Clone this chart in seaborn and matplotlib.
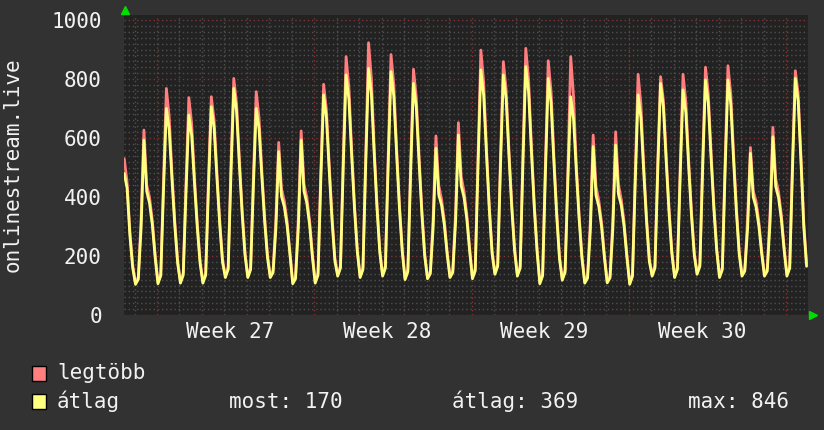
import matplotlib
matplotlib.use("Agg")
import numpy as np
import pandas as pd
import matplotlib.pyplot as plt
from matplotlib.patches import Rectangle
import seaborn as sns

# days counted from Monday of week 27 (= 0); values read at these hours of each day
hours = [1, 4, 7, 10, 13, 16, 19, 22]

# the half Saturday at the left edge (day -2)
sat_hours = [13, 16, 19, 22]
sat_avg = [480, 430, 270, 160]
sat_max = [530, 450, 285, 170]

# átlag (yellow), one row per day starting with Sunday (day -1)
avg_days = [
    [104, 121, 295, 593, 419, 379, 305, 195],  # Sun
    [106, 133, 429, 700, 628, 459, 303, 176],  # Mon wk27
    [108, 135, 418, 678, 609, 447, 297, 175],
    [108, 135, 433, 706, 633, 464, 306, 179],
    [127, 154, 476, 768, 690, 508, 340, 203],
    [127, 154, 439, 700, 630, 468, 317, 195],
    [127, 144, 293, 554, 402, 367, 302, 206],
    [106, 123, 296, 593, 420, 380, 306, 197],
    [108, 135, 455, 746, 668, 488, 320, 184],  # Mon wk28
    [132, 159, 504, 814, 731, 538, 359, 214],
    [127, 154, 513, 836, 750, 549, 363, 212],
    [132, 159, 510, 825, 741, 545, 362, 215],
    [120, 147, 482, 785, 704, 516, 341, 199],
    [123, 140, 295, 565, 408, 372, 304, 205],
    [127, 144, 315, 610, 438, 399, 325, 217],
    [123, 150, 509, 831, 745, 545, 358, 208],  # Mon wk29
    [138, 165, 506, 814, 732, 540, 363, 219],
    [132, 159, 519, 842, 756, 555, 368, 217],
    [106, 133, 485, 802, 718, 520, 337, 190],
    [118, 145, 457, 740, 664, 488, 324, 192],
    [108, 125, 288, 571, 406, 368, 298, 194],
    [109, 126, 291, 576, 410, 372, 301, 196],
    [104, 131, 454, 746, 668, 486, 317, 181],  # Mon wk30
    [132, 159, 488, 785, 706, 521, 349, 210],
    [127, 154, 473, 763, 686, 505, 338, 203],
    [138, 165, 497, 797, 717, 530, 357, 217],
    [127, 154, 492, 797, 716, 526, 350, 207],
    [132, 149, 294, 548, 400, 366, 302, 209],
    [132, 149, 316, 604, 436, 398, 326, 220],
    [132, 159, 497, 802, 725, 520, 300, 165],  # Mon wk31
]

# legtöbb (red)
max_days = [
    [109, 129, 330, 627, 440, 399, 320, 205],
    [111, 141, 464, 768, 672, 479, 318, 186],
    [113, 143, 453, 737, 649, 467, 312, 185],
    [113, 143, 468, 740, 660, 484, 321, 189],
    [132, 162, 511, 802, 717, 528, 355, 213],
    [132, 162, 474, 757, 668, 488, 332, 205],
    [132, 152, 328, 585, 427, 387, 317, 216],
    [111, 131, 331, 624, 445, 400, 321, 207],
    [113, 143, 490, 782, 696, 508, 335, 194],
    [137, 167, 539, 876, 772, 558, 374, 224],
    [132, 162, 548, 923, 804, 569, 378, 222],
    [137, 167, 545, 883, 780, 565, 377, 225],
    [125, 155, 517, 833, 738, 536, 356, 209],
    [128, 148, 330, 607, 439, 392, 319, 215],
    [132, 152, 350, 652, 469, 419, 340, 227],
    [128, 158, 544, 898, 789, 565, 373, 218],
    [143, 173, 541, 859, 765, 560, 378, 229],
    [137, 167, 554, 904, 797, 575, 383, 227],
    [111, 141, 520, 862, 758, 540, 352, 200],
    [123, 153, 492, 876, 742, 508, 339, 202],
    [113, 133, 323, 610, 436, 388, 313, 204],
    [114, 134, 326, 621, 442, 392, 316, 206],
    [109, 139, 489, 816, 713, 506, 332, 191],
    [137, 167, 523, 808, 728, 541, 364, 220],
    [132, 162, 508, 816, 723, 525, 353, 213],
    [143, 173, 532, 840, 749, 550, 372, 227],
    [132, 162, 527, 845, 750, 546, 365, 217],
    [137, 157, 329, 568, 420, 386, 317, 219],
    [137, 157, 351, 636, 462, 418, 341, 230],
    [137, 167, 532, 828, 750, 540, 315, 175],
]

week_labels = ["Week 27", "Week 28", "Week 29", "Week 30"]
legend_names = ["legtöbb", "átlag"]
stats = ["most: 170", "átlag: 369", "max: 846"]

RED = "#ff7f7f"
YEL = "#ffff80"
FG = "#f2f2f2"
GRID_MAJ = "#7e3434"
GRID_MIN = "#505050"

# time axis in days
t = [-2 + h / 24 for h in sat_hours]
for i in range(len(avg_days)):
    t += [i - 1 + h / 24 for h in hours]
avg = sat_avg + [v for row in avg_days for v in row]
mx = sat_max + [v for row in max_days for v in row]

df = pd.DataFrame({
    "t": t * 2,
    "v": mx + avg,
    "s": ["max"] * len(mx) + ["avg"] * len(avg),
})

sns.set_style("dark", {"axes.facecolor": "#222222", "figure.facecolor": "#323232"})
plt.rcParams["font.family"] = ["DejaVu Sans Mono", "DejaVu Sans"]
plt.rcParams["font.size"] = 15

fig = plt.figure(figsize=(8.24, 4.30), dpi=100)
ax = fig.add_axes([124 / 824, 115 / 430, 684 / 824, 300 / 430])

sns.lineplot(data=df, x="t", y="v", hue="s", palette={"max": RED, "avg": YEL},
             estimator=None, sort=False, linewidth=2.0, legend=False, ax=ax, zorder=3)

ax.set_xlim(-1.47, 28.98)
ax.set_ylim(0, 1017)
ax.set_xticks([0, 7, 14, 21, 28])
ax.set_xticks(np.arange(-1, 29), minor=True)
ax.set_yticks(np.arange(0, 1001, 200))
ax.set_yticks(np.arange(0, 1001, 20), minor=True)
ax.grid(which="major", color=GRID_MAJ, linestyle=(0, (1, 2)), linewidth=1)
ax.grid(which="minor", color=GRID_MIN, linestyle=(0, (1, 2)), linewidth=1)
ax.set_axisbelow(True)
for s in ax.spines.values():
    s.set_visible(False)

ax.tick_params(axis="x", which="both", labelbottom=False, length=3, width=1, direction="out")
ax.tick_params(axis="x", which="major", color=GRID_MAJ)
ax.tick_params(axis="x", which="minor", color=GRID_MIN)
ax.tick_params(axis="y", which="major", length=2, color=GRID_MIN, labelcolor=FG,
               labelsize=15, pad=14)
ax.tick_params(axis="y", which="minor", length=0)
ax.set_xlabel("")
ax.set_ylabel("")

for k, lab in enumerate(week_labels):
    ax.text(3.25 + 7 * k, -0.025, lab, transform=ax.get_xaxis_transform(),
            ha="center", va="top", color=FG, fontsize=15)

# rrdtool style axis arrows
ax.plot([0.002], [1.017], marker="^", color="#00dd00", markersize=6,
        transform=ax.transAxes, clip_on=False)
ax.plot([1.008], [0.0], marker=">", color="#00dd00", markersize=6,
        transform=ax.transAxes, clip_on=False)

fig.text(13 / 824, 1 - 165 / 430, "onlinestream.live", rotation=90,
         ha="center", va="center", color=FG, fontsize=15)

# legend
for j, (name, col) in enumerate(zip(legend_names, [RED, YEL])):
    yc = 373 + 28.5 * j
    fig.patches.append(Rectangle((32 / 824, 1 - (yc + 7.5) / 430), 14 / 824, 15 / 430,
                                 facecolor=col, edgecolor="black", linewidth=1,
                                 transform=fig.transFigure, figure=fig))
    fig.text(57 / 824, 1 - yc / 430, name, ha="left", va="center", color=FG, fontsize=15)

for x0, txt in zip([229, 452, 688], stats):
    fig.text(x0 / 824, 1 - 401.5 / 430, txt, ha="left", va="center", color=FG, fontsize=15)

fig.savefig("out.png", dpi=100, facecolor=fig.get_facecolor())
